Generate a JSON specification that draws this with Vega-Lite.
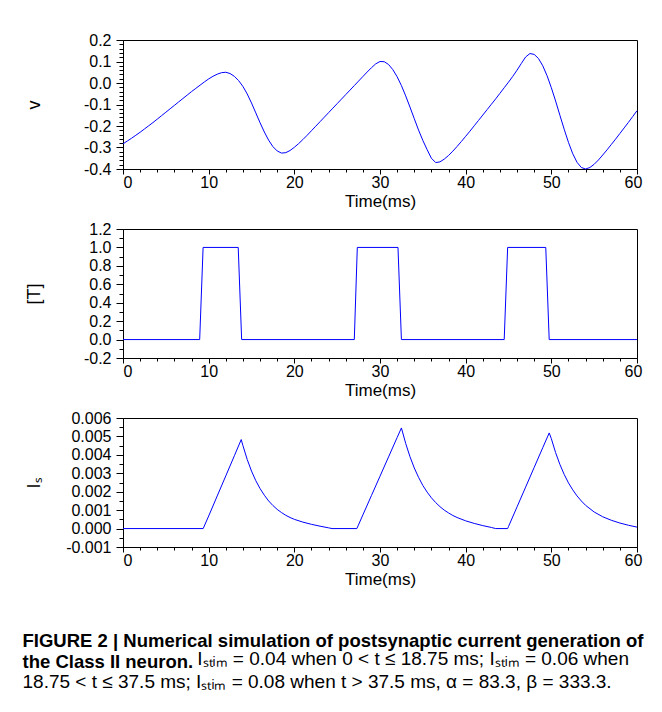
{
  "$schema": "https://vega.github.io/schema/vega-lite/v6.json",
  "padding": {"left": 22, "top": 31, "right": 0, "bottom": 0},
  "background": "white",
  "datasets": {
    "v": [
      {"t":0,"v":-0.283},{"t":0.5,"v":-0.270},{"t":1,"v":-0.257},{"t":1.5,"v":-0.243},{"t":2,"v":-0.229},{"t":2.5,"v":-0.214},{"t":3,"v":-0.199},{"t":3.5,"v":-0.184},{"t":4,"v":-0.168},{"t":4.5,"v":-0.152},{"t":5,"v":-0.136},{"t":5.5,"v":-0.120},{"t":6,"v":-0.104},{"t":6.5,"v":-0.088},{"t":7,"v":-0.072},{"t":7.5,"v":-0.056},{"t":8,"v":-0.040},{"t":8.5,"v":-0.025},{"t":9,"v":-0.010},{"t":9.5,"v":0.005},{"t":10,"v":0.019},{"t":10.5,"v":0.031},{"t":11,"v":0.041},{"t":11.5,"v":0.048},{"t":12,"v":0.050},{"t":12.5,"v":0.044},{"t":13,"v":0.031},{"t":13.5,"v":0.011},{"t":14,"v":-0.016},{"t":14.5,"v":-0.051},{"t":15,"v":-0.093},{"t":15.5,"v":-0.139},{"t":16,"v":-0.185},{"t":16.5,"v":-0.228},{"t":17,"v":-0.266},{"t":17.5,"v":-0.296},{"t":18,"v":-0.316},{"t":18.5,"v":-0.326},{"t":19,"v":-0.324},{"t":19.5,"v":-0.314},{"t":20,"v":-0.299},{"t":20.5,"v":-0.282},{"t":21,"v":-0.263},{"t":21.5,"v":-0.243},{"t":22,"v":-0.222},{"t":22.5,"v":-0.201},{"t":23,"v":-0.180},{"t":23.5,"v":-0.159},{"t":24,"v":-0.138},{"t":24.5,"v":-0.117},{"t":25,"v":-0.096},{"t":25.5,"v":-0.075},{"t":26,"v":-0.054},{"t":26.5,"v":-0.033},{"t":27,"v":-0.012},{"t":27.5,"v":0.009},{"t":28,"v":0.030},{"t":28.5,"v":0.051},{"t":29,"v":0.071},{"t":29.5,"v":0.089},{"t":30,"v":0.100},{"t":30.5,"v":0.099},{"t":31,"v":0.086},{"t":31.5,"v":0.062},{"t":32,"v":0.029},{"t":32.5,"v":-0.012},{"t":33,"v":-0.060},{"t":33.5,"v":-0.112},{"t":34,"v":-0.166},{"t":34.5,"v":-0.219},{"t":35,"v":-0.267},{"t":35.5,"v":-0.310},{"t":36,"v":-0.350},{"t":36.5,"v":-0.370},{"t":37,"v":-0.367},{"t":37.5,"v":-0.354},{"t":38,"v":-0.337},{"t":38.5,"v":-0.317},{"t":39,"v":-0.295},{"t":39.5,"v":-0.272},{"t":40,"v":-0.248},{"t":40.5,"v":-0.224},{"t":41,"v":-0.199},{"t":41.5,"v":-0.174},{"t":42,"v":-0.149},{"t":42.5,"v":-0.124},{"t":43,"v":-0.099},{"t":43.5,"v":-0.074},{"t":44,"v":-0.048},{"t":44.5,"v":-0.022},{"t":45,"v":0.004},{"t":45.5,"v":0.031},{"t":46,"v":0.060},{"t":46.5,"v":0.091},{"t":47,"v":0.121},{"t":47.5,"v":0.137},{"t":48,"v":0.133},{"t":48.5,"v":0.114},{"t":49,"v":0.080},{"t":49.5,"v":0.034},{"t":50,"v":-0.022},{"t":50.5,"v":-0.084},{"t":51,"v":-0.150},{"t":51.5,"v":-0.215},{"t":52,"v":-0.276},{"t":52.5,"v":-0.329},{"t":53,"v":-0.369},{"t":53.5,"v":-0.393},{"t":54,"v":-0.400},{"t":54.5,"v":-0.393},{"t":55,"v":-0.378},{"t":55.5,"v":-0.358},{"t":56,"v":-0.335},{"t":56.5,"v":-0.311},{"t":57,"v":-0.286},{"t":57.5,"v":-0.261},{"t":58,"v":-0.235},{"t":58.5,"v":-0.209},{"t":59,"v":-0.183},{"t":59.5,"v":-0.156},{"t":60,"v":-0.129}
    ],
    "T": [
      {"t":0,"T":0},{"t":8.95,"T":0},{"t":9.35,"T":1},{"t":13.45,"T":1},{"t":13.85,"T":0},{"t":27.0,"T":0},{"t":27.35,"T":1},{"t":32.1,"T":1},{"t":32.5,"T":0},{"t":44.5,"T":0},{"t":44.9,"T":1},{"t":49.35,"T":1},{"t":49.75,"T":0},{"t":60,"T":0}
    ],
    "Is": [
      {"t":0,"I":0},{"t":9.36,"I":0},{"t":10,"I":0.00068},{"t":11,"I":0.00177},{"t":12,"I":0.00286},{"t":13,"I":0.00395},{"t":13.8,"I":0.00483},{"t":14,"I":0.00450},{"t":14.5,"I":0.00375},{"t":15,"I":0.00312},{"t":15.5,"I":0.00260},{"t":16,"I":0.00217},{"t":16.5,"I":0.00181},{"t":17,"I":0.00150},{"t":17.5,"I":0.00125},{"t":18,"I":0.00104},{"t":18.5,"I":0.00087},{"t":19,"I":0.00072},{"t":19.5,"I":0.00060},{"t":20,"I":0.00050},{"t":21,"I":0.00035},{"t":22,"I":0.00023},{"t":23,"I":0.00013},{"t":24,"I":0.00004},{"t":24.4,"I":0},{"t":27.3,"I":0},{"t":28,"I":0.00074},{"t":29,"I":0.00179},{"t":30,"I":0.00284},{"t":31,"I":0.00389},{"t":32,"I":0.00494},{"t":32.5,"I":0.00546},{"t":33,"I":0.00462},{"t":33.5,"I":0.00390},{"t":34,"I":0.00329},{"t":34.5,"I":0.00278},{"t":35,"I":0.00234},{"t":35.5,"I":0.00198},{"t":36,"I":0.00167},{"t":36.5,"I":0.00141},{"t":37,"I":0.00119},{"t":37.5,"I":0.00100},{"t":38,"I":0.00085},{"t":38.5,"I":0.00071},{"t":39,"I":0.00060},{"t":40,"I":0.00042},{"t":41,"I":0.00028},{"t":42,"I":0.00016},{"t":43,"I":0.00006},{"t":43.5,"I":0},{"t":44.9,"I":0},{"t":45,"I":0.00011},{"t":46,"I":0.00118},{"t":47,"I":0.00225},{"t":48,"I":0.00332},{"t":49,"I":0.00439},{"t":49.75,"I":0.00519},{"t":50,"I":0.00488},{"t":50.5,"I":0.00412},{"t":51,"I":0.00348},{"t":51.5,"I":0.00294},{"t":52,"I":0.00248},{"t":52.5,"I":0.00210},{"t":53,"I":0.00177},{"t":53.5,"I":0.00150},{"t":54,"I":0.00126},{"t":55,"I":0.00090},{"t":56,"I":0.00064},{"t":57,"I":0.00045},{"t":58,"I":0.00030},{"t":59,"I":0.00018},{"t":60,"I":0.00008}
    ]
  },
  "title": {
    "text": ["FIGURE 2 | Numerical simulation of postsynaptic current generation of", "the Class II neuron."],
    "subtitle": ["\u200b\u2003\u2003\u2003\u2003\u2003\u2003\u2003\u2003\u2003\u2009I\u209b\u209c\u1d62\u2098 = 0.04 when 0 < t \u2264 18.75 ms; I\u209b\u209c\u1d62\u2098 = 0.06 when", "18.75 < t \u2264 37.5 ms; I\u209b\u209c\u1d62\u2098 = 0.08 when t > 37.5 ms, \u03b1 = 83.3, \u03b2 = 333.3."],
    "orient": "bottom",
    "anchor": "start",
    "frame": "bounds",
    "offset": 44,
    "font": "Liberation Sans",
    "fontSize": 18.5,
    "fontWeight": "bold",
    "lineHeight": 21.5,
    "color": "#000000",
    "subtitleFont": "Liberation Sans",
    "subtitleFontSize": 19,
    "subtitleFontWeight": "normal",
    "subtitleLineHeight": 23,
    "subtitleColor": "#000000",
    "subtitlePadding": -22,
    "dx": -2
  },
  "spacing": 10,
  "vconcat": [
    {
      "width": 514, "height": 129,
      "data": {"name": "v"},
      "mark": {"type": "line", "color": "#0000ff", "strokeWidth": 1},
      "encoding": {
        "x": {"field": "t", "type": "quantitative", "scale": {"domain": [0, 60], "nice": false, "zero": false},
          "axis": {"values": [0,2,4,6,8,10,12,14,16,18,20,22,24,26,28,30,32,34,36,38,40,42,44,46,48,50,52,54,56,58,60],
            "format": "d", "labelExpr": "datum.value % 10 === 0 ? datum.label : ''",
            "tickSize": {"condition": {"test": "datum.value % 10 === 0", "value": 5}, "value": 3},
            "labelOffset": {"condition": [{"test": "datum.value === 0", "value": 4.5}, {"test": "datum.value === 60", "value": -4}], "value": 0},
            "title": "Time(ms)"}},
        "y": {"field": "v", "type": "quantitative", "scale": {"domain": [-0.4, 0.2], "nice": false, "zero": false},
          "axis": {"values": [-0.4,-0.38,-0.36,-0.34,-0.32,-0.3,-0.28,-0.26,-0.24,-0.22,-0.2,-0.18,-0.16,-0.14,-0.12,-0.1,-0.08,-0.06,-0.04,-0.02,0,0.02,0.04,0.06,0.08,0.1,0.12,0.14,0.16,0.18,0.2],
            "format": ".1f", "labelExpr": "abs(datum.value*10 - round(datum.value*10)) < 0.000001 ? datum.label : ''",
            "tickSize": {"condition": {"test": "abs(datum.value*10 - round(datum.value*10)) < 0.000001", "value": 7}, "value": 4},
            "title": "v"}}
      }
    },
    {
      "width": 514, "height": 129,
      "data": {"name": "T"},
      "mark": {"type": "line", "color": "#0000ff", "strokeWidth": 1},
      "encoding": {
        "x": {"field": "t", "type": "quantitative", "scale": {"domain": [0, 60], "nice": false, "zero": false},
          "axis": {"values": [0,2,4,6,8,10,12,14,16,18,20,22,24,26,28,30,32,34,36,38,40,42,44,46,48,50,52,54,56,58,60],
            "format": "d", "labelExpr": "datum.value % 10 === 0 ? datum.label : ''",
            "tickSize": {"condition": {"test": "datum.value % 10 === 0", "value": 5}, "value": 3},
            "labelOffset": {"condition": [{"test": "datum.value === 0", "value": 4.5}, {"test": "datum.value === 60", "value": -4}], "value": 0},
            "title": "Time(ms)"}},
        "y": {"field": "T", "type": "quantitative", "scale": {"domain": [-0.2, 1.2], "nice": false, "zero": false},
          "axis": {"values": [-0.2,-0.1,0,0.1,0.2,0.3,0.4,0.5,0.6,0.7,0.8,0.9,1,1.1,1.2],
            "format": ".1f", "labelExpr": "abs(datum.value*5 - round(datum.value*5)) < 0.000001 ? datum.label : ''",
            "tickSize": {"condition": {"test": "abs(datum.value*5 - round(datum.value*5)) < 0.000001", "value": 7}, "value": 4},
            "title": "[T]"}}
      }
    },
    {
      "width": 514, "height": 129,
      "data": {"name": "Is"},
      "mark": {"type": "line", "color": "#0000ff", "strokeWidth": 1},
      "encoding": {
        "x": {"field": "t", "type": "quantitative", "scale": {"domain": [0, 60], "nice": false, "zero": false},
          "axis": {"values": [0,2,4,6,8,10,12,14,16,18,20,22,24,26,28,30,32,34,36,38,40,42,44,46,48,50,52,54,56,58,60],
            "format": "d", "labelExpr": "datum.value % 10 === 0 ? datum.label : ''",
            "tickSize": {"condition": {"test": "datum.value % 10 === 0", "value": 5}, "value": 3},
            "labelOffset": {"condition": [{"test": "datum.value === 0", "value": 4.5}, {"test": "datum.value === 60", "value": -4}], "value": 0},
            "title": "Time(ms)"}},
        "y": {"field": "I", "type": "quantitative", "scale": {"domain": [-0.001, 0.006], "nice": false, "zero": false},
          "axis": {"values": [-0.001,-0.0005,0,0.0005,0.001,0.0015,0.002,0.0025,0.003,0.0035,0.004,0.0045,0.005,0.0055,0.006],
            "format": ".3f", "labelExpr": "abs(datum.value*1000 - round(datum.value*1000)) < 0.000001 ? datum.label : ''",
            "tickSize": {"condition": {"test": "abs(datum.value*1000 - round(datum.value*1000)) < 0.000001", "value": 7}, "value": 4},
            "title": "I\u209b"}}
      }
    }
  ],
  "config": {
    "locale": {"number": {"decimal": ".", "thousands": ",", "grouping": [3], "currency": ["$", ""], "minus": "-"}},
    "view": {"stroke": "#000000", "strokeWidth": 1},
    "axis": {
      "grid": false,
      "domainColor": "#000000",
      "tickColor": "#000000",
      "labelColor": "#000000",
      "labelFont": "Liberation Sans",
      "labelFontSize": 16,
      "labelOverlap": false,
      "titleColor": "#000000",
      "titleFont": "Liberation Sans",
      "titleFontSize": 17,
      "titleFontWeight": "normal"
    },
    "axisX": {"labelPadding": 0, "labelFlush": false, "titleBaseline": "alphabetic", "titleY": 37},
    "axisY": {"labelPadding": 5, "titleFontSize": 18, "titleBaseline": "alphabetic", "titleX": -84, "titleAngle": -90}
  }
}
